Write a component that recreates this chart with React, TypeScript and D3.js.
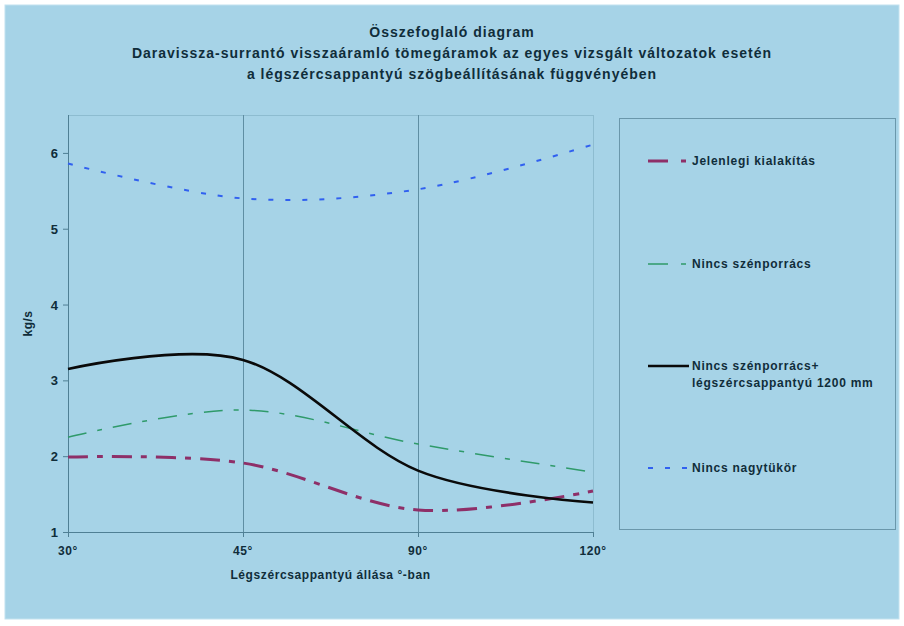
import React from "react";
import * as d3 from "d3";

const categories = ["30°", "45°", "90°", "120°"];
const jelenlegi = [1.99, 1.91, 1.29, 1.54];
const nincsSzenporracs = [2.25, 2.61, 2.16, 1.79];
const nincsSzenporracsLegszer = [3.15, 3.27, 1.81, 1.39];
const nincsNagytukor = [5.86, 5.4, 5.52, 6.11];
const yTicks = [1, 2, 3, 4, 5, 6];
const seriesNames = [
  ["Jelenlegi kialakítás"],
  ["Nincs szénporrács"],
  ["Nincs szénporrács+", "légszércsappantyú 1200 mm"],
  ["Nincs nagytükör"],
];
const titleLines = [
  "Összefoglaló diagram",
  "Daravissza-surrantó visszaáramló tömegáramok az egyes vizsgált változatok esetén",
  "a légszércsappantyú szögbeállításának függvényében",
];

const W = 904;
const H = 626;
const BG = "#a6d3e7";
const TXT = "#102d3a";
const FONT = "'Liberation Sans', Arial, sans-serif";

export default function App() {
  const left = 68, right = 593, top = 115, bottom = 532;
  const x = d3.scalePoint<string>().domain(categories).range([left, right]);
  const y = d3.scaleLinear().domain([1, 6.5]).range([bottom, top]);
  const line = d3
    .line<number>()
    .x((_, i) => x(categories[i]) as number)
    .y((d) => y(d))
    .curve(d3.curveCardinal.tension(0));

  const series = [
    { data: jelenlegi, color: "#8e2f68", width: 3, dash: "20,9,6,9" },
    { data: nincsSzenporracs, color: "#2f9a6a", width: 1.5, dash: "19,11,5,11" },
    { data: nincsSzenporracsLegszer, color: "#0a0a0a", width: 2.6, dash: "none" },
    { data: nincsNagytukor, color: "#3060f0", width: 2, dash: "5,12" },
  ];
  const legendY = [161, 264, 366, 468];

  return (
    <svg
      width={W}
      height={H}
      style={{ position: "absolute", left: 0, top: 0 }}
      fontFamily={FONT}
    >
      <rect x={0} y={0} width={W} height={H} fill="#ffffff" />
      <rect x={5} y={5} width={894} height={614} fill={BG} stroke="#c2e2ef" strokeWidth={1} />
      {titleLines.map((t, i) => (
        <text
          key={i}
          x={452}
          y={37 + i * 21}
          textAnchor="middle"
          fontSize={14}
          fontWeight="bold"
          letterSpacing={1}
          fill={TXT}
        >
          {t}
        </text>
      ))}
      {/* plot frame */}
      <line x1={left} x2={right} y1={top + 0.5} y2={top + 0.5} stroke="#8dbcd0" />
      <line x1={right + 0.5} x2={right + 0.5} y1={top} y2={bottom} stroke="#8dbcd0" />
      {categories.slice(1, 3).map((c) => (
        <line
          key={c}
          x1={(x(c) as number) + 0.5}
          x2={(x(c) as number) + 0.5}
          y1={top}
          y2={bottom}
          stroke="#5f8ea3"
        />
      ))}
      <line x1={left + 0.5} x2={left + 0.5} y1={top} y2={bottom + 5} stroke="#4f7f94" />
      <line x1={left - 5} x2={right} y1={bottom + 0.5} y2={bottom + 0.5} stroke="#4f7f94" />
      {yTicks.map((t) => (
        <g key={t}>
          <line x1={left - 5} x2={left} y1={y(t) + 0.5} y2={y(t) + 0.5} stroke="#4f7f94" />
          <text x={left - 10} y={y(t) + 5} textAnchor="end" fontSize={13} fontWeight="bold" fill={TXT}>
            {t}
          </text>
        </g>
      ))}
      {categories.map((c) => (
        <g key={c}>
          <line
            x1={(x(c) as number) + 0.5}
            x2={(x(c) as number) + 0.5}
            y1={bottom}
            y2={bottom + 5}
            stroke="#4f7f94"
          />
          <text
            x={x(c) as number}
            y={555}
            textAnchor="middle"
            fontSize={12}
            fontWeight="bold"
            letterSpacing={0.6}
            fill={TXT}
          >
            {c}
          </text>
        </g>
      ))}
      <text
        x={(left + right) / 2}
        y={579}
        textAnchor="middle"
        fontSize={12}
        fontWeight="bold"
        letterSpacing={0.6}
        fill={TXT}
      >
        Légszércsappantyú állása °-ban
      </text>
      <text
        transform={`translate(32, ${(top + bottom) / 2}) rotate(-90)`}
        textAnchor="middle"
        fontSize={12}
        fontWeight="bold"
        letterSpacing={0.5}
        fill={TXT}
      >
        kg/s
      </text>
      {series.map((s, i) => (
        <path
          key={i}
          d={line(s.data) || ""}
          fill="none"
          stroke={s.color}
          strokeWidth={s.width}
          strokeDasharray={s.dash}
        />
      ))}
      {/* legend */}
      <rect x={619.5} y={118.5} width={276} height={411} fill="none" stroke="#6a97ab" />
      {series.map((s, i) => (
        <g key={i}>
          <line
            x1={648}
            x2={689}
            y1={legendY[i]}
            y2={legendY[i]}
            stroke={s.color}
            strokeWidth={s.width}
            strokeDasharray={i < 2 ? "20,13,5,10" : s.dash}
          />
          {seriesNames[i].map((n, j) => (
            <text
              key={j}
              x={692}
              y={legendY[i] + 4 + j * 17}
              fontSize={12}
              fontWeight="bold"
              letterSpacing={0.75}
              fill={TXT}
            >
              {n}
            </text>
          ))}
        </g>
      ))}
    </svg>
  );
}
